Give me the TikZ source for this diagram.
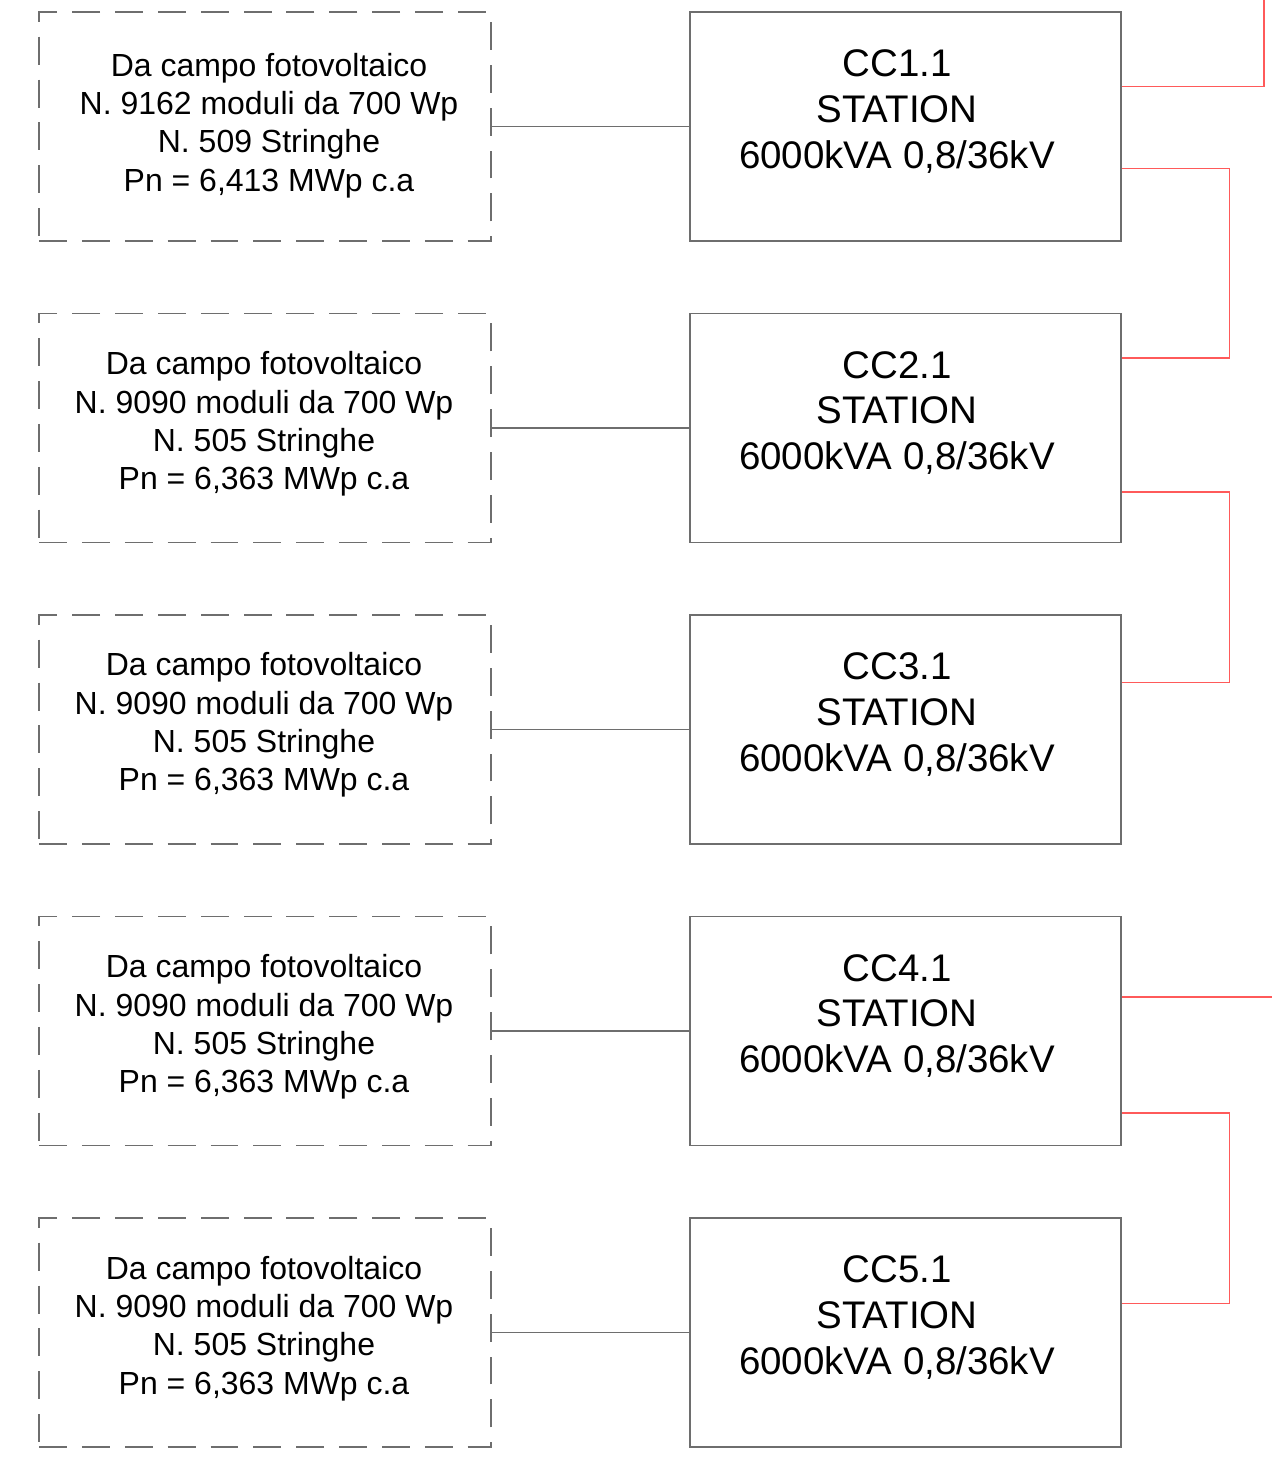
\documentclass[tikz,border=0pt]{standalone}
\usepackage{fontspec}
\setmainfont{Liberation Sans}
\usepackage{tikz}
\usetikzlibrary{positioning, calc}
\definecolor{linea}{RGB}{110,110,110}
\definecolor{rosso}{RGB}{255,90,90}

\tikzset{
  campo/.style={draw=linea, line width=0.7pt, dash pattern=on 15.9pt off 8.5pt, minimum width=9.04cm, minimum height=4.58cm, inner sep=0pt},
  cabina/.style={draw=linea, line width=0.7pt, minimum width=8.62cm, minimum height=4.58cm, inner sep=0pt},
  testocampo/.style={align=center, inner sep=0pt, font=\fontsize{18.2}{21.8}\selectfont},
  testocabina/.style={align=center, inner sep=0pt, font=\fontsize{21.9}{26}\selectfont},
  cavo/.style={draw=linea, line width=0.7pt},
  rossa/.style={draw=rosso, line width=0.7pt}
}

\begin{document}
\begin{tikzpicture}[x=0.02cm, y=-0.02cm]
                \useasboundingbox (0,0) rectangle (1272,1460);

                % Campi e cabine
                \foreach \i/\nmod/\nstr/\pn/\tx/\ty in {1/9162/509/{6,413}/269/1, 2/9090/505/{6,363}/264/4, 3/9090/505/{6,363}/264/4.5, 4/9090/505/{6,363}/264/4, 5/9090/505/{6,363}/264/4} {
                    \pgfmathsetmacro{\cy}{126.5 + 301.5*(\i-1)}
                    \node[campo] (campo\i) at (265, \cy) {};
                    \node[cabina] (cc\i) at (905.5, \cy) {};
                    \node[testocampo] (tc\i) at (\tx, \cy-\ty) {Da campo fotovoltaico\\N. \nmod{} moduli da 700 Wp\\N. \nstr{} Stringhe\\Pn = \pn{} MWp c.a};
                    \node[testocabina] (tk\i) at (897, \cy-15) {CC\i.1\\STATION\\6000kVA 0,8/36kV};
                    \draw[cavo] (campo\i.east) -- (cc\i.west);
                }

                % Collegamenti MT
                \coordinate (su1) at (1264, 0);
                \coordinate (fuori4) at (1272, 0);
                \draw[rossa] ($(cc1.north east)+(0,75)$) -| (su1);
                \draw[rossa] ($(cc1.north east)+(0,157)$) -- ++(108,0) |- ($(cc2.north east)+(0,45)$);
                \draw[rossa] ($(cc2.north east)+(0,179)$) -- ++(108,0) |- ($(cc3.north east)+(0,68)$);
                \draw[rossa] ($(cc4.north east)+(0,81)$) coordinate (a4) -- (a4 -| fuori4);
                \draw[rossa] ($(cc4.north east)+(0,197)$) -- ++(108,0) |- ($(cc5.north east)+(0,86)$);
            \end{tikzpicture}
\end{document}
